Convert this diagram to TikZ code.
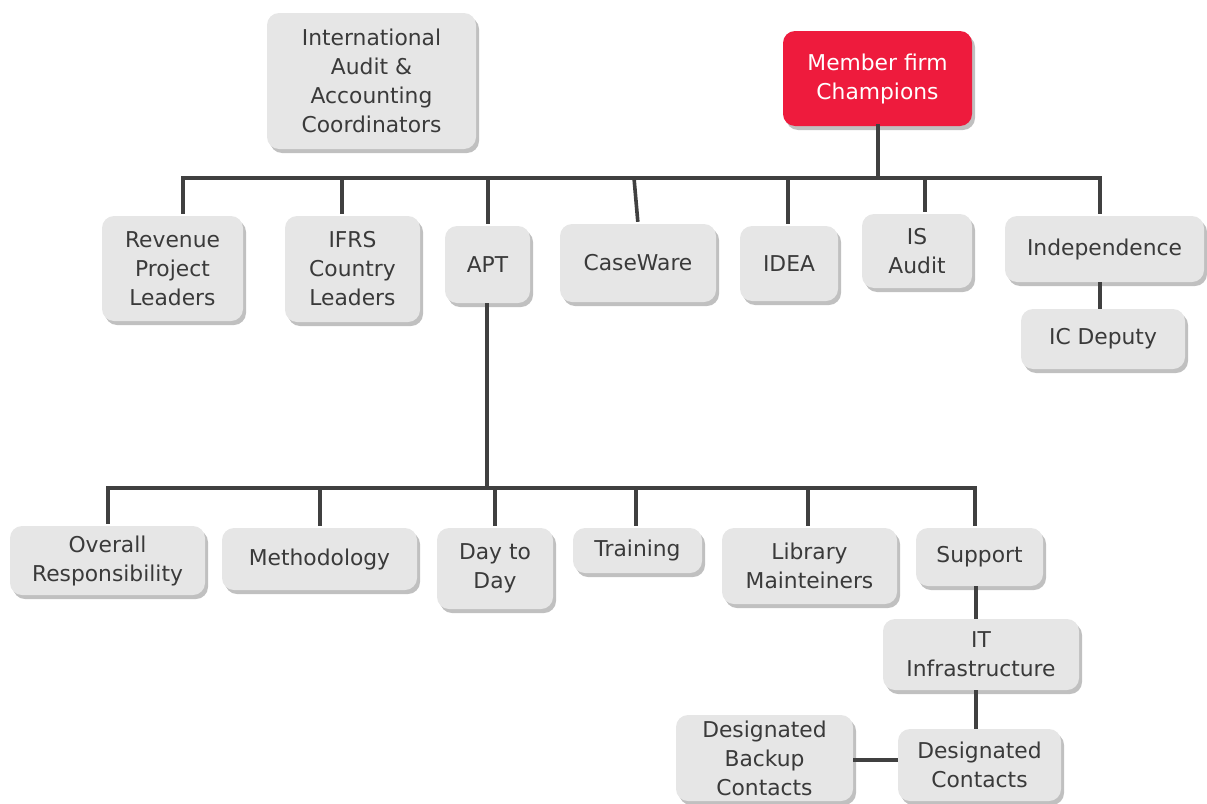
\documentclass[tikz,border=0pt]{standalone}
\usepackage{fontspec}
\setmainfont{DejaVu Sans}
\usetikzlibrary{shadows}
\definecolor{boxfill}{HTML}{E6E6E6}
\definecolor{inkgray}{HTML}{3A3A3A}
\definecolor{linkgray}{HTML}{404040}
\definecolor{champred}{HTML}{EE1B3D}
\definecolor{shadowgray}{HTML}{8C8C8C}
\tikzset{
  orgbox/.style={rectangle, rounded corners=12pt, fill=boxfill, text=inkgray,
    align=center, inner sep=0pt,
    font=\fontsize{21.8}{29}\selectfont,
    drop shadow={shadow xshift=3pt, shadow yshift=-4pt, fill=shadowgray, opacity=0.55}},
  redbox/.style={orgbox, fill=champred, text=white},
  sz/.style n args={2}{minimum width=#1pt, minimum height=#2pt},
  link/.style={draw=linkgray, line width=3.6pt, line cap=rect},
  drop/.style={link, line cap=butt, shorten >=2pt}
}
\begin{document}
\begin{tikzpicture}[x=1pt, y=-1pt]
\useasboundingbox (0,0) rectangle (1207,803);

% top level
\node[orgbox, sz={209}{136}] (iaac) at (371.5,81) {International\\Audit \&\\Accounting\\Coordinators};
\node[redbox, sz={189}{95}] (champ) at (877.5,78.5) {Member firm\\Champions};

% second row
\node[orgbox, sz={141}{105}] (rev)   at (172.5,268.5) {Revenue\\Project\\Leaders};
\node[orgbox, sz={135}{106}] (ifrs)  at (352.5,269)   {IFRS\\Country\\Leaders};
\node[orgbox, sz={85}{77}]   (apt)   at (487.5,264.5) {APT};
\node[orgbox, sz={156}{78}]  (cw)    at (638,263)     {CaseWare};
\node[orgbox, sz={98}{75}]   (idea)  at (789,263.5)   {IDEA};
\node[orgbox, sz={110}{74}]  (isa)   at (917,251)     {IS\\Audit};
\node[orgbox, sz={199}{66}]  (indep) at (1104.5,249)  {Independence};
\node[orgbox, sz={164}{60}]  (icd)   at (1103,339)    {IC Deputy};

% APT teams
\node[orgbox, sz={195}{69}]  (over)  at (107.5,560.5) {Overall\\Responsibility};
\node[orgbox, sz={195}{62}]  (meth)  at (319.5,559)   {Methodology};
\node[orgbox, sz={116}{81}]  (dtd)   at (495,568.5)   {Day to\\Day};
\node[orgbox, sz={129}{45}]  (train) at (637.5,550.5) {Training};
\node[orgbox, sz={175}{76}]  (lib)   at (809.5,566)   {Library\\Mainteiners};
\node[orgbox, sz={127}{58}]  (supp)  at (979.5,557)   {Support};
\node[orgbox, sz={196}{71}]  (itinf) at (981,654.5)   {IT\\Infrastructure};
\node[orgbox, sz={163}{72}]  (dc)    at (979.5,765)   {Designated\\Contacts};
\node[orgbox, sz={177}{86}]  (dbc)   at (764.5,758)   {Designated\\Backup\\Contacts};

% upper bus
\coordinate (u1) at (183,178);
\coordinate (u2) at (342,178);
\coordinate (u3) at (488,178);
\coordinate (u4) at (634,178);
\coordinate (u5) at (788,178);
\coordinate (u6) at (925,178);
\coordinate (u7) at (1100,178);
\coordinate (uc) at (878,178);
\draw[link] (champ.south -| uc) -- (uc);
\draw[link] (u1) -- (u7);
\draw[drop] (u1) -- (u1 |- rev.north);
\draw[drop] (u2) -- (u2 |- ifrs.north);
\draw[drop] (u3) -- (u3 |- apt.north);
\draw[drop] (u4) -- (cw.north);
\draw[drop] (u5) -- (u5 |- idea.north);
\draw[drop] (u6) -- (u6 |- isa.north);
\draw[drop] (u7) -- (u7 |- indep.north);
\coordinate (ic) at (1100,0);
\draw[link, line cap=butt] (ic |- indep.south) -- (ic |- icd.north);

% lower bus under APT
\coordinate (l1) at (108,488);
\coordinate (l2) at (320,488);
\coordinate (l3) at (495,488);
\coordinate (l4) at (636,488);
\coordinate (l5) at (808,488);
\coordinate (l6) at (975,488);
\coordinate (la) at (487,488);
\draw[link, line cap=butt] (apt.south -| la) -- (la);
\draw[link] (l1) -- (l6);
\draw[drop] (l1) -- (l1 |- over.north);
\draw[drop] (l2) -- (l2 |- meth.north);
\draw[drop] (l3) -- (l3 |- dtd.north);
\draw[drop] (l4) -- (l4 |- train.north);
\draw[drop] (l5) -- (l5 |- lib.north);
\draw[drop] (l6) -- (l6 |- supp.north);

% support chain
\coordinate (sc) at (976,0);
\draw[link, line cap=butt] (sc |- supp.south) -- (sc |- itinf.north);
\draw[link, line cap=butt] (sc |- itinf.south) -- (sc |- dc.north);
\coordinate (hc) at (0,760);
\draw[link, line cap=butt] (dbc.east |- hc) -- (dc.west |- hc);
\end{tikzpicture}
\end{document}
